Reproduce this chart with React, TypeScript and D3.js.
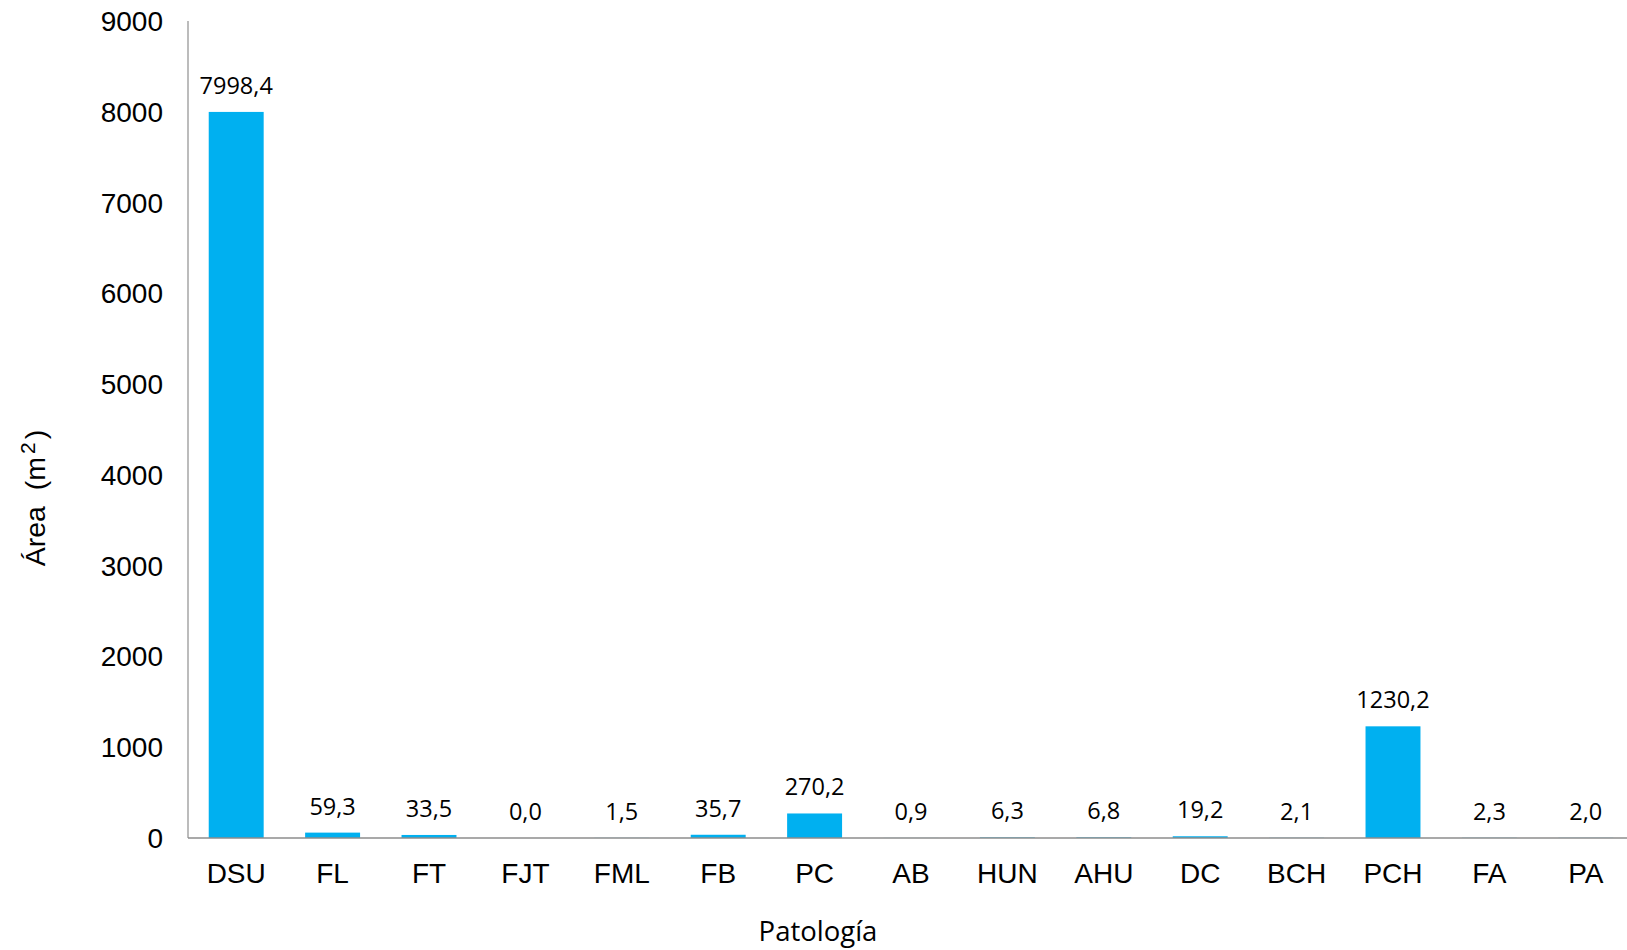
import React from "react";
import * as d3 from "d3";

const categories = ["DSU", "FL", "FT", "FJT", "FML", "FB", "PC", "AB", "HUN", "AHU", "DC", "BCH", "PCH", "FA", "PA"];
const values = [7998.4, 59.3, 33.5, 0.0, 1.5, 35.7, 270.2, 0.9, 6.3, 6.8, 19.2, 2.1, 1230.2, 2.3, 2.0];
const yTicks = [0, 1000, 2000, 3000, 4000, 5000, 6000, 7000, 8000, 9000];

const W = 1627;
const H = 950;
const left = 188;
const right = 1634;
const top = 21;
const bottom = 838;

export default function App() {
  const x = d3.scaleBand<string>().domain(categories).range([left, right]).paddingInner(0.43).paddingOuter(0.215);
  const y = d3.scaleLinear().domain([0, 9000]).range([bottom, top]);
  const fmt = (v: number) => v.toFixed(1).replace(".", ",");
  return (
    <svg width={W} height={H} style={{ position: "absolute", left: 0, top: 0, background: "#fff" }}>
      <line x1={left} x2={left} y1={top} y2={bottom} stroke="#a6a6a6" strokeWidth={1.5} />
      {yTicks.map((t) => (
        <text key={t} x={163} y={y(t) + 10} textAnchor="end" fontFamily="Liberation Sans, Arial" fontSize={28} fill="#000">
          {t}
        </text>
      ))}
      {categories.map((c, i) => {
        const v = values[i];
        const bx = x(c)!;
        return (
          <g key={c}>
            <rect x={bx} y={y(v)} width={x.bandwidth()} height={bottom - y(v)} fill="#00B0F0" />
            <text x={bx + x.bandwidth() / 2} y={y(v) - 18} textAnchor="middle" fontFamily="Open Sans" fontSize={23.5} fill="#000">
              {fmt(v)}
            </text>
            <text x={bx + x.bandwidth() / 2} y={883} textAnchor="middle" fontFamily="Liberation Sans, Arial" fontSize={28} fill="#000">
              {c}
            </text>
          </g>
        );
      })}
      <line x1={left} x2={right} y1={bottom} y2={bottom} stroke="#8c8c8c" strokeWidth={1.5} />
      <text transform={`translate(45,498) rotate(-90)`} textAnchor="middle" fontFamily="Liberation Sans, Arial" fontSize={28.5} fill="#000" style={{ whiteSpace: "pre" }}>
        {"Área  (m"}
        <tspan fontSize={21} dx={3} dy={-10}>2</tspan>
        <tspan dx={3} dy={10}>)</tspan>
      </text>
      <text x={818} y={941} textAnchor="middle" fontFamily="Open Sans" fontSize={27.5} fill="#000">
        Patología
      </text>
    </svg>
  );
}
